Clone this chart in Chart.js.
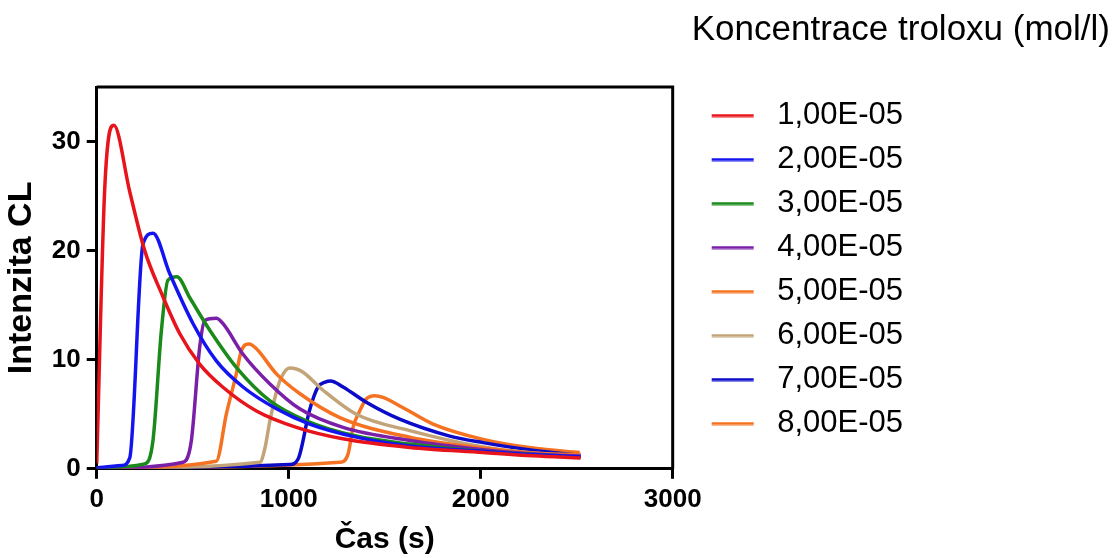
<!DOCTYPE html>
<html>
<head>
<meta charset="utf-8">
<script src="https://cdn.jsdelivr.net/npm/chart.js@4.4.0/dist/chart.umd.min.js"></script>
<style>
  html, body { margin: 0; padding: 0; background: #fff; }
</style>
</head>
<body>
<canvas id="myChart" width="1114" height="558"></canvas>
<script>
// legend labels (troloxu concentration, mol/l)
const concentrations = ['1,00E-05', '2,00E-05', '3,00E-05', '4,00E-05',
                        '5,00E-05', '6,00E-05', '7,00E-05', '8,00E-05'];

// time (s) and CL intensity
const times1  = [0, 42, 89, 172, 250, 337, 432, 536, 656, 832, 1040, 1282, 1630, 2012, 2270, 2520];
const values1 = [0.5, 25.8, 31.5, 25.4, 20.0, 16.1, 12.4, 9.6, 7.5, 5.3, 3.8, 2.75, 1.96, 1.5, 1.2, 1.0];

const times2  = [0, 130, 172, 241, 293, 380, 502, 623, 762, 936, 1109, 1352, 1630, 2012, 2270, 2520];
const values2 = [0.1, 0.3, 1.0, 20.6, 21.6, 17.9, 13.3, 9.9, 7.5, 5.5, 4.1, 2.9, 2.1, 1.6, 1.3, 1.1];

const times3  = [0, 250, 293, 337, 371, 418, 484, 589, 727, 901, 1092, 1352, 1630, 2012, 2270, 2520];
const values3 = [0.1, 0.45, 2.6, 12.7, 17.3, 17.6, 15.7, 12.7, 9.3, 6.25, 4.4, 3.0, 2.27, 1.6, 1.3, 1.05];

const times4  = [0, 450, 493, 536, 563, 623, 658, 762, 901, 1057, 1283, 1630, 2012, 2270, 2520];
const values4 = [0.05, 0.6, 2.6, 11.1, 13.6, 13.8, 13.3, 10.5, 7.8, 5.5, 3.8, 2.6, 1.75, 1.35, 1.15];

const times5  = [0, 623, 675, 727, 753, 795, 832, 936, 1057, 1266, 1630, 2012, 2270, 2520];
const values5 = [0.05, 0.7, 5.0, 8.7, 10.8, 11.45, 11.0, 8.7, 6.9, 4.7, 2.9, 1.9, 1.45, 1.3];

const times6  = [0, 850, 875, 901, 935, 962, 1005, 1040, 1075, 1179, 1352, 1630, 2012, 2270, 2520];
const values6 = [0.05, 0.6, 1.8, 4.3, 7.0, 8.4, 9.25, 9.15, 8.85, 7.2, 5.0, 3.5, 2.0, 1.45, 1.1];

const times7  = [0, 1005, 1049, 1109, 1153, 1190, 1218, 1283, 1404, 1578, 1839, 2012, 2270, 2520];
const values7 = [0.05, 0.4, 0.9, 5.4, 7.5, 7.95, 8.05, 7.5, 6.1, 4.55, 3.0, 2.4, 1.7, 1.25];

const times8  = [0, 1266, 1309, 1335, 1370, 1404, 1448, 1491, 1596, 1752, 2012, 2273, 2516];
const values8 = [0.05, 0.6, 1.35, 3.8, 5.3, 6.4, 6.7, 6.55, 5.6, 4.1, 2.7, 1.9, 1.5];

const allTimes  = [times1, times2, times3, times4, times5, times6, times7, times8];
const allValues = [values1, values2, values3, values4, values5, values6, values7, values8];

const lineColors = ['#e8141c', '#1414f0', '#1a8a1a', '#7a1fa8',
                    '#f57222', '#c3a478', '#0a0ac8', '#f57222'];

const fontFamily = "'Liberation Sans', Arial, sans-serif";

// short line used as legend symbol (blank space on the left keeps the text gap)
function legendLine(color) {
    const c = document.createElement('canvas');
    c.width = 76;
    c.height = 4;
    const g = c.getContext('2d');
    g.fillStyle = color;
    g.fillRect(26, 0.5, 42, 3);
    return c;
}

// closes the plot box on top and right side
const frame = {
    id: 'frame',
    afterDatasetsDraw(chart) {
        const { ctx, chartArea } = chart;
        ctx.save();
        ctx.strokeStyle = '#000';
        ctx.lineWidth = 3;
        ctx.beginPath();
        ctx.moveTo(chartArea.left, chartArea.top);
        ctx.lineTo(chartArea.right, chartArea.top);
        ctx.lineTo(chartArea.right, chartArea.bottom);
        ctx.stroke();
        ctx.restore();
    }
};

function initChart(target) {
    const datasets = concentrations.map((label, i) => ({
        label: label,
        data: allTimes[i].map((t, j) => ({ x: t, y: allValues[i][j] })),
        borderColor: lineColors[i],
        backgroundColor: lineColors[i],
        borderWidth: 3.5,
        pointRadius: 0,
        pointStyle: legendLine(lineColors[i]),
        cubicInterpolationMode: 'monotone',
        fill: false
    }));

    const config = {
        type: 'line',
        data: { datasets: datasets },
        options: {
            responsive: false,
            animation: false,
            events: [],
            layout: { padding: { top: 0, right: 4, bottom: 0, left: 0 } },
            scales: {
                x: {
                    type: 'linear',
                    min: 0,
                    max: 3000,
                    ticks: {
                        stepSize: 1000,
                        padding: 5,
                        color: '#000',
                        font: { family: fontFamily, size: 26, weight: 'bold' },
                        callback: (v) => String(v)
                    },
                    grid: { drawOnChartArea: false, drawTicks: true, tickLength: 10, lineWidth: 3, color: '#000' },
                    border: { display: true, color: '#000', width: 3 },
                    title: {
                        display: true,
                        text: 'Čas (s)',
                        color: '#000',
                        font: { family: fontFamily, size: 30, weight: 'bold' },
                        padding: { top: 2, bottom: 0 }
                    }
                },
                y: {
                    min: 0,
                    max: 35,
                    ticks: {
                        stepSize: 10,
                        includeBounds: false,
                        padding: 6,
                        color: '#000',
                        font: { family: fontFamily, size: 26, weight: 'bold' },
                        callback: (v) => String(v)
                    },
                    grid: { drawOnChartArea: false, drawTicks: true, tickLength: 10, lineWidth: 3, color: '#000' },
                    border: { display: true, color: '#000', width: 3 },
                    title: {
                        display: true,
                        text: 'Intenzita CL',
                        color: '#000',
                        font: { family: fontFamily, size: 34, weight: 'bold' },
                        padding: { top: 1, bottom: 4 }
                    }
                },
                // empty space right of the legend
                spacer: {
                    type: 'linear',
                    position: 'right',
                    display: false,
                    weight: 1500,
                    afterFit: (scale) => { scale.width = 197; }
                }
            },
            plugins: {
                title: {
                    display: true,
                    text: 'Koncentrace troloxu (mol/l)',
                    align: 'end',
                    color: '#000',
                    font: { family: fontFamily, size: 35, weight: 'normal' },
                    padding: { top: 9, bottom: 36 }
                },
                legend: {
                    position: 'right',
                    align: 'start',
                    fullSize: false,
                    labels: {
                        usePointStyle: true,
                        pointStyleWidth: 76,
                        padding: 13,
                        color: '#000',
                        font: { family: fontFamily, size: 31 }
                    }
                },
                tooltip: { enabled: false }
            }
        },
        plugins: [frame]
    };

    return new Chart(target, config);
}

let chart = initChart(document.querySelector('#myChart'));
</script>
</body>
</html>
